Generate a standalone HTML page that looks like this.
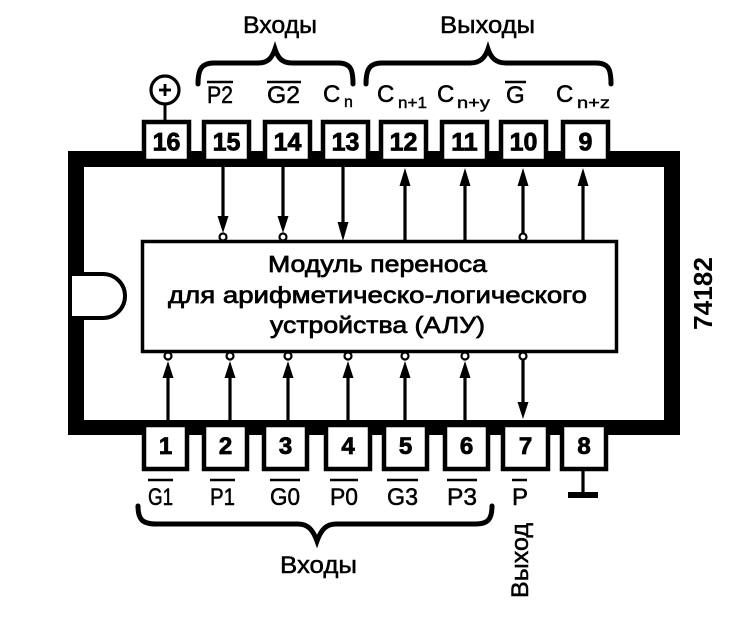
<!DOCTYPE html>
<html><head><meta charset="utf-8"><style>
html,body{margin:0;padding:0;background:#fff;}
svg{display:block;}
text{font-family:"Liberation Sans","DejaVu Sans",sans-serif;}
</style></head><body>
<svg width="749" height="622" viewBox="0 0 749 622" xmlns="http://www.w3.org/2000/svg">
<rect x="0" y="0" width="749" height="622" fill="#fff"/>

<!-- chip body -->
<rect x="68" y="151" width="612" height="16" fill="#000"/>
<rect x="68" y="420" width="612" height="15" fill="#000"/>
<rect x="68" y="151" width="16" height="284" fill="#000"/>
<rect x="664" y="151" width="16" height="284" fill="#000"/>
<!-- notch -->
<path d="M72 274 H103 A22 22 0 0 1 103 318 H72 Z" fill="#fff"/>
<path d="M70 274 H103 A22 22 0 0 1 103 318 H70" fill="none" stroke="#000" stroke-width="4"/>

<!-- central box -->
<rect x="142.5" y="241.5" width="474" height="110" fill="#fff" stroke="#000" stroke-width="3.5"/>
<g fill="#000" stroke="#000" stroke-width="0.7" font-size="23">
<text x="268" y="272" textLength="219" lengthAdjust="spacingAndGlyphs">Модуль переноса</text>
<text x="168" y="303" textLength="419" lengthAdjust="spacingAndGlyphs">для арифметическо-логического</text>
<text x="270" y="333" textLength="215" lengthAdjust="spacingAndGlyphs">устройства (АЛУ)</text>
</g>

<!-- top connectors -->
<g stroke="#000" stroke-width="3.2" fill="none">
<line x1="223" y1="167" x2="223" y2="218"/>
<line x1="283" y1="167" x2="283" y2="218"/>
<line x1="343" y1="167" x2="343" y2="224"/>
<line x1="405" y1="184" x2="405" y2="241"/>
<line x1="465" y1="184" x2="465" y2="241"/>
<line x1="523" y1="184" x2="523" y2="234"/>
<line x1="583" y1="184" x2="583" y2="241"/>
</g>
<g fill="#000">
<polygon points="217.5,216 228.5,216 223,233"/>
<polygon points="277.5,216 288.5,216 283,233"/>
<polygon points="337.5,222 348.5,222 343,241"/>
<polygon points="399.5,186 410.5,186 405,168"/>
<polygon points="459.5,186 470.5,186 465,168"/>
<polygon points="517.5,186 528.5,186 523,168"/>
<polygon points="577.5,186 588.5,186 583,168"/>
</g>
<g fill="#fff" stroke="#000" stroke-width="2.2">
<circle cx="223" cy="237" r="3.5"/>
<circle cx="283" cy="237" r="3.5"/>
<circle cx="523" cy="237" r="3.5"/>
</g>

<!-- bottom connectors -->
<g stroke="#000" stroke-width="3.2" fill="none">
<line x1="168" y1="376" x2="168" y2="420"/>
<line x1="230" y1="376" x2="230" y2="420"/>
<line x1="288" y1="376" x2="288" y2="420"/>
<line x1="348" y1="376" x2="348" y2="420"/>
<line x1="405" y1="376" x2="405" y2="420"/>
<line x1="465" y1="376" x2="465" y2="420"/>
<line x1="523" y1="360" x2="523" y2="404"/>
</g>
<g fill="#000">
<polygon points="162.5,378 173.5,378 168,361"/>
<polygon points="224.5,378 235.5,378 230,361"/>
<polygon points="282.5,378 293.5,378 288,361"/>
<polygon points="342.5,378 353.5,378 348,361"/>
<polygon points="399.5,378 410.5,378 405,361"/>
<polygon points="459.5,378 470.5,378 465,361"/>
<polygon points="517.5,402 528.5,402 523,419"/>
</g>
<g fill="#fff" stroke="#000" stroke-width="2.2">
<circle cx="168" cy="356" r="3.5"/>
<circle cx="230" cy="356" r="3.5"/>
<circle cx="288" cy="356" r="3.5"/>
<circle cx="348" cy="356" r="3.5"/>
<circle cx="405" cy="356" r="3.5"/>
<circle cx="465" cy="356" r="3.5"/>
<circle cx="523" cy="356" r="3.5"/>
</g>

<!-- top pin boxes -->
<g fill="#fff" stroke="#000" stroke-width="4.5">
<rect x="144" y="122" width="45" height="39"/>
<rect x="204" y="122" width="45" height="39"/>
<rect x="265" y="122" width="45" height="39"/>
<rect x="323" y="122" width="45" height="39"/>
<rect x="381" y="122" width="45" height="39"/>
<rect x="442" y="122" width="45" height="39"/>
<rect x="501" y="122" width="45" height="39"/>
<rect x="563" y="122" width="45" height="39"/>
</g>
<g fill="#000" stroke="#000" stroke-width="0.8" font-size="25" font-weight="bold" text-anchor="middle">
<text x="166.5" y="150.5">16</text>
<text x="226.5" y="150.5">15</text>
<text x="287.5" y="150.5">14</text>
<text x="345.5" y="150.5">13</text>
<text x="403.5" y="150.5">12</text>
<text x="464.5" y="150.5">11</text>
<text x="523.5" y="150.5">10</text>
<text x="585.5" y="150.5">9</text>
</g>

<!-- bottom pin boxes -->
<g fill="#fff" stroke="#000" stroke-width="4.5">
<rect x="144" y="425" width="43" height="44"/>
<rect x="204" y="425" width="43" height="44"/>
<rect x="264" y="425" width="43" height="44"/>
<rect x="326" y="425" width="44" height="44"/>
<rect x="384" y="425" width="43" height="44"/>
<rect x="445" y="425" width="43" height="44"/>
<rect x="503" y="425" width="45" height="44"/>
<rect x="562" y="425" width="44" height="44"/>
</g>
<g fill="#000" stroke="#000" stroke-width="0.8" font-size="24" font-weight="bold" text-anchor="middle">
<text x="165.5" y="454">1</text>
<text x="225.5" y="454">2</text>
<text x="285.5" y="454">3</text>
<text x="348" y="454">4</text>
<text x="405.5" y="454">5</text>
<text x="466.5" y="454">6</text>
<text x="525.5" y="454">7</text>
<text x="584" y="454">8</text>
</g>

<!-- power symbol -->
<line x1="165" y1="104" x2="165" y2="122" stroke="#000" stroke-width="3"/>
<circle cx="165" cy="90" r="14" fill="#fff" stroke="#000" stroke-width="3.2"/>
<line x1="159" y1="90" x2="171" y2="90" stroke="#000" stroke-width="2.8"/>
<line x1="165" y1="84" x2="165" y2="96" stroke="#000" stroke-width="2.8"/>

<!-- ground -->
<line x1="583" y1="470" x2="583" y2="494" stroke="#000" stroke-width="3.2"/>
<rect x="568" y="492" width="30" height="6" fill="#000"/>

<!-- braces -->
<g fill="none" stroke="#000" stroke-width="5" stroke-linecap="round">
<path d="M198 84 C198 70 201 63 214 63 H258 C268 63 272 58 275 49 C278 58 282 63 292 63 H338 C351 63 353 70 353 84"/>
<path d="M366 84 C366 70 369 63 382 63 H470 C480 63 485 58 488 49 C491 58 496 63 506 63 H596 C609 63 611 70 611 84"/>
<path d="M138 506 C138 519 142 524 156 524 H298 C308 524 313 530 317 541 C321 530 326 524 336 524 H476 C488 524 492 519 492 506"/>
</g>

<!-- group labels -->
<g fill="#000" stroke="#000" stroke-width="0.5" font-size="24">
<text x="243" y="33" textLength="74" lengthAdjust="spacingAndGlyphs">Входы</text>
<text x="440" y="33" textLength="95" lengthAdjust="spacingAndGlyphs">Выходы</text>
<text x="280" y="573" textLength="77" lengthAdjust="spacingAndGlyphs">Входы</text>
<text transform="translate(528,598) rotate(-90)" x="0" y="0" textLength="75" lengthAdjust="spacingAndGlyphs">Выход</text>
</g>

<!-- 74182 -->
<text transform="translate(712,330) rotate(-90)" x="0" y="0" fill="#000" font-size="26" font-weight="bold" textLength="73" lengthAdjust="spacingAndGlyphs">74182</text>

<!-- top pin labels -->
<g fill="#000" stroke="#000" stroke-width="0.5" font-size="24">
<text x="207" y="103" textLength="26" lengthAdjust="spacingAndGlyphs">P2</text>
<text x="267" y="103" textLength="33" lengthAdjust="spacingAndGlyphs">G2</text>
<text x="323" y="102">C</text>
<text x="377" y="102">C</text>
<text x="437" y="102">C</text>
<text x="506" y="103">G</text>
<text x="556" y="102">C</text>
</g>
<g fill="#000" stroke="#000" stroke-width="0.4" font-size="16">
<text x="344" y="107">n</text>
<text x="398" y="108" textLength="29" lengthAdjust="spacingAndGlyphs">n+1</text>
<text x="457" y="108" textLength="33" lengthAdjust="spacingAndGlyphs">n+y</text>
<text x="577" y="108" textLength="33" lengthAdjust="spacingAndGlyphs">n+z</text>
</g>
<g stroke="#000" stroke-width="2.5">
<line x1="207" y1="82" x2="233" y2="82"/>
<line x1="267" y1="82" x2="301" y2="82"/>
<line x1="505" y1="82" x2="526" y2="82"/>
</g>

<!-- bottom pin labels -->
<g fill="#000" stroke="#000" stroke-width="0.5" font-size="24">
<text x="148" y="505" textLength="25" lengthAdjust="spacingAndGlyphs">G1</text>
<text x="210" y="505" textLength="25" lengthAdjust="spacingAndGlyphs">P1</text>
<text x="270" y="505" textLength="30" lengthAdjust="spacingAndGlyphs">G0</text>
<text x="330" y="505" textLength="28" lengthAdjust="spacingAndGlyphs">P0</text>
<text x="387" y="505" textLength="31" lengthAdjust="spacingAndGlyphs">G3</text>
<text x="447" y="505" textLength="30" lengthAdjust="spacingAndGlyphs">P3</text>
<text x="512" y="505">P</text>
</g>
<g stroke="#000" stroke-width="2.5">
<line x1="148" y1="480" x2="173" y2="480"/>
<line x1="210" y1="480" x2="235" y2="480"/>
<line x1="270" y1="480" x2="300" y2="480"/>
<line x1="330" y1="480" x2="358" y2="480"/>
<line x1="387" y1="480" x2="418" y2="480"/>
<line x1="447" y1="480" x2="477" y2="480"/>
<line x1="512" y1="480" x2="527" y2="480"/>
</g>
</svg>
</body></html>
